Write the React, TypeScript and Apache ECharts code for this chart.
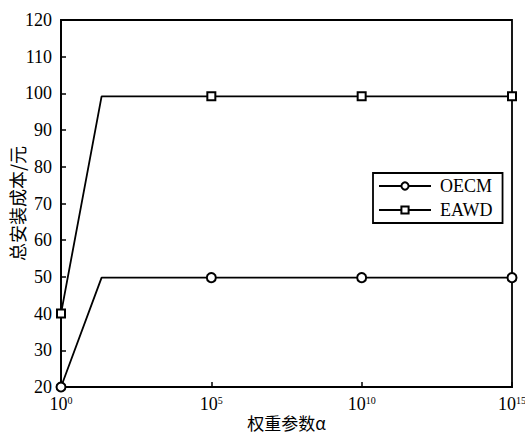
import React, { useEffect, useRef } from "react";
import * as echarts from "echarts";

const xExponents = [0, 1.35, 5, 10, 15];
const markerShown = [true, false, true, true, true];
const oecmValues = [20, 49.8, 49.8, 49.8, 49.8];
const eawdValues = [40, 99.2, 99.2, 99.2, 99.2];
const seriesNames = ["OECM", "EAWD"];
const xTicks = [0, 5, 10, 15];
const yMin = 20;
const yMax = 120;

const serif = "Liberation Serif";
const cjk = "Noto Sans CJK SC";

function build(values: number[]) {
  return xExponents.map((x, i) =>
    markerShown[i] ? { value: [x, values[i]] } : { value: [x, values[i]], symbol: "none" }
  );
}

export default function App() {
  const ref = useRef<HTMLDivElement>(null);
  useEffect(() => {
    document.body.style.margin = "0";
    if (!ref.current) return;
    const chart = echarts.init(ref.current, null, { renderer: "svg" });
    chart.setOption({
      animation: false,
      backgroundColor: "#fff",
      grid: {
        left: 61,
        right: 13,
        top: 20,
        bottom: 47,
        containLabel: false,
        outerBoundsMode: "none",
        show: true,
        borderColor: "#000",
        borderWidth: 1.8,
        backgroundColor: "transparent",
      },
      legend: {
        orient: "vertical",
        left: 373,
        top: 173,
        padding: [4, 10, 4, 5],
        itemWidth: 52,
        itemHeight: 9,
        itemGap: 6,
        borderColor: "#000",
        borderWidth: 1.8,
        borderRadius: 0,
        backgroundColor: "#fff",
        data: seriesNames,
        textStyle: {
          fontFamily: serif,
          fontSize: 18,
          color: "#000",
          padding: [0, 0, 0, 4],
        },
      },
      xAxis: {
        type: "value",
        min: 0,
        max: 15,
        interval: 5,
        name: "权重参数α",
        nameLocation: "middle",
        nameGap: 27,
        nameMoveOverlap: false,
        nameTextStyle: { fontFamily: cjk, fontSize: 17, color: "#000" },
        axisLine: { lineStyle: { color: "#000", width: 1.8 } },
        axisTick: { show: true, inside: true, length: 5, lineStyle: { color: "#000", width: 1.5 } },
        splitLine: { show: false },
        axisLabel: {
          margin: 8,
          fontFamily: serif,
          formatter: (v: number) => (xTicks.includes(v) ? `{b|10}{s|${v}}` : ""),
          rich: {
            b: { fontFamily: serif, fontSize: 18, color: "#000" },
            s: { fontFamily: serif, fontSize: 10, color: "#000", padding: [0, 0, 8, 0] },
          },
        },
      },
      yAxis: {
        type: "value",
        min: yMin,
        max: yMax,
        interval: 10,
        name: "总安装成本/元",
        nameLocation: "middle",
        nameGap: 35,
        nameMoveOverlap: false,
        nameTextStyle: { fontFamily: cjk, fontSize: 18, color: "#000" },
        axisLine: { lineStyle: { color: "#000", width: 1.8 } },
        axisTick: { show: true, inside: true, length: 5, lineStyle: { color: "#000", width: 1.5 } },
        splitLine: { show: false },
        axisLabel: { margin: 9, fontFamily: serif, fontSize: 18, color: "#000" },
      },
      series: [
        {
          name: seriesNames[0],
          type: "line",
          data: build(oecmValues),
          symbol: "emptyCircle",
          symbolSize: 9,
          color: "#000",
          itemStyle: { color: "#000", borderWidth: 1.5 },
          lineStyle: { color: "#000", width: 1.8 },
        },
        {
          name: seriesNames[1],
          type: "line",
          data: build(eawdValues),
          symbol: "emptyRect",
          symbolSize: 8,
          color: "#000",
          itemStyle: { color: "#000", borderWidth: 1.5 },
          lineStyle: { color: "#000", width: 1.8 },
        },
      ],
    });
    return () => chart.dispose();
  }, []);
  return <div ref={ref} style={{ width: 525, height: 434 }} />;
}
